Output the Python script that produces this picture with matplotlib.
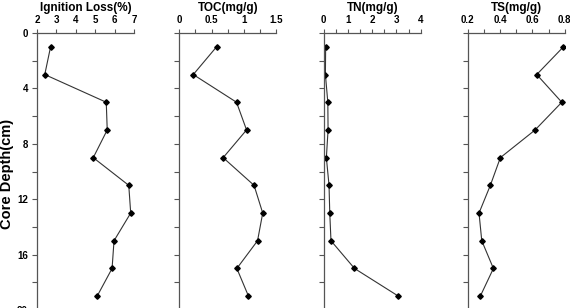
import matplotlib
matplotlib.use("Agg")
import matplotlib.pyplot as plt
from matplotlib.ticker import MultipleLocator

depth = [1, 3, 5, 7, 9, 11, 13, 15, 17, 19]
ignition_loss = [2.7, 2.4, 5.57, 5.62, 4.9, 6.73, 6.83, 5.97, 5.87, 5.1]
toc = [0.576, 0.216, 0.885, 1.04, 0.678, 1.156, 1.29, 1.21, 0.89, 1.07]
tn = [0.08, 0.07, 0.17, 0.18, 0.11, 0.22, 0.25, 0.30, 1.27, 3.08]
ts = [0.792, 0.627, 0.782, 0.617, 0.402, 0.34, 0.27, 0.287, 0.359, 0.278]

titles = ["Ignition Loss(%)", "TOC(mg/g)", "TN(mg/g)", "TS(mg/g)"]
series = [ignition_loss, toc, tn, ts]
xlims = [(2, 7), (0, 1.5), (0, 4), (0.2, 0.8)]
xmajor = [[2, 3, 4, 5, 6, 7], [0, 0.5, 1, 1.5], [0, 1, 2, 3, 4], [0.2, 0.4, 0.6, 0.8]]
xminor = [1, 0.25, 0.5, 0.1]
xticklabels = [["2", "3", "4", "5", "6", "7"],
               ["0", "0.5", "1", "1.5"],
               ["0", "1", "2", "3", "4"],
               ["0.2", "0.4", "0.6", "0.8"]]
ylabels = ["0", "4", "8", "12", "16", "20"]

plt.rcParams['font.family'] = ['Liberation Sans', 'DejaVu Sans']
plt.rcParams['font.weight'] = 'bold'

W, H = 570, 308
fig = plt.figure(figsize=(W / 100, H / 100), dpi=100)
lefts = [37, 179.3, 323.7, 467.7]
width = 97
top = 33
bottom = 310

for i in range(4):
    ax = fig.add_axes([lefts[i] / W, 1 - bottom / H, width / W, (bottom - top) / H])
    ax.plot(series[i], depth, color='#333333', lw=0.8, marker='D', ms=2.8,
            mfc='black', mec='black')
    ax.set_xlim(*xlims[i])
    ax.set_ylim(20, 0)
    ax.set_xticks(xmajor[i])
    ax.set_xticklabels(xticklabels[i])
    ax.xaxis.set_minor_locator(MultipleLocator(xminor[i]))
    ax.xaxis.tick_top()
    ax.yaxis.set_minor_locator(MultipleLocator(2))
    for s in ['right', 'bottom']:
        ax.spines[s].set_visible(False)
    for s in ['left', 'top']:
        ax.spines[s].set_color('#555555')
        ax.spines[s].set_linewidth(0.9)
    ax.tick_params(axis='x', which='both', direction='out', length=3, width=0.8,
                   color='#555555', labelsize=7, pad=2.5, top=True, bottom=False)
    ax.tick_params(axis='y', which='both', direction='out', length=3.5, width=0.8,
                   color='#555555', labelsize=7, pad=3)
    if i == 0:
        ax.set_yticks([0, 4, 8, 12, 16, 20])
        ax.set_yticklabels(ylabels)
        ax.set_ylabel("Core Depth(cm)", fontsize=10.5, fontweight='bold')
        ax.yaxis.set_label_coords((14 - lefts[0]) / width, (bottom - 174) / (bottom - top))
    else:
        ax.set_yticks([0, 4, 8, 12, 16, 20])
        ax.tick_params(axis='y', labelleft=False)
    fig.text((lefts[i] + width / 2) / W, 1 - 8 / H, titles[i], fontsize=8.5,
             fontweight='bold', ha='center', va='center')
    ax.patch.set_alpha(0)

fig.savefig("out.png", dpi=100)
